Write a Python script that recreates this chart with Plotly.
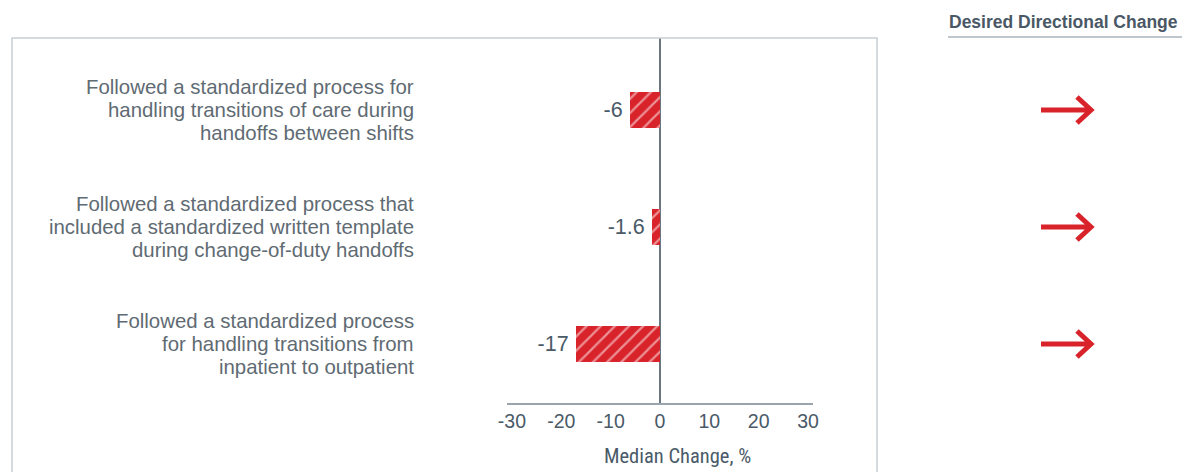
import plotly.graph_objects as go

# ---- data ----
categories = [
    "Followed a standardized process for<br>handling transitions of care during<br>handoffs between shifts",
    "Followed a standardized process that<br>included a standardized written template<br>during change-of-duty handoffs",
    "Followed a standardized process<br>for handling transitions from<br>inpatient to outpatient",
]
median_change = [-6, -1.6, -17]
desired_direction = ["increase", "increase", "increase"]
tick_values = [-30, -20, -10, 0, 10, 20, 30]
tick_labels = ["-30", "-20", "-10", "0", "10", "20", "30"]

W, H = 1185, 472
RED = "#d9232b"
TXT = "#4a5a68"
LBL = "#5f6b73"
FONT = "Liberation Sans"

def px(x):
    return x / W

def py(y):
    return 1 - y / H

# row positions: first category at top
ypos = [2, 1, 0]
ROW_UNIT = 117.0  # pixels per row unit

fig = go.Figure()
fig.add_trace(go.Bar(
    x=median_change,
    y=ypos,
    orientation="h",
    width=0.3,
    marker=dict(
        color=RED,
        line=dict(width=0),
        pattern=dict(shape="/", fgcolor="white", bgcolor=RED, size=10, solidity=0.22),
    ),
    text=[f"{v:g}\u2009" for v in median_change],
    textposition="outside",
    textfont=dict(size=21.5, color=TXT, family=FONT),
    cliponaxis=False,
    hoverinfo="skip",
))

# category labels, one annotation per line for tight line spacing
for cat, yv in zip(categories, ypos):
    lines = cat.split("<br>")
    n = len(lines)
    for i, ln in enumerate(lines):
        off = (i - (n - 1) / 2) * 23.0 / ROW_UNIT
        fig.add_annotation(
            x=px(416), xref="paper", y=yv - off, yref="y",
            text=ln, showarrow=False, xanchor="right", yanchor="middle", align="right",
            font=dict(size=20.4, color=LBL, family=FONT),
        )

# axis title
fig.add_annotation(
    x=px(677), y=py(456), xref="paper", yref="paper",
    text="Median Change, %", showarrow=False, xanchor="center", yanchor="middle",
    font=dict(size=20.5, color=TXT, family="Roboto Condensed, Liberation Sans Narrow, Liberation Sans"),
)

# header
fig.add_annotation(
    x=px(1180), y=py(22), xref="paper", yref="paper",
    text="<b>Desired Directional Change</b>", showarrow=False, xanchor="right", yanchor="middle",
    font=dict(size=17.5, color="#4a5866", family=FONT),
)

shapes = []
# header underline
shapes.append(dict(type="line", xref="paper", yref="paper",
                   x0=px(948), x1=px(1182), y0=py(37), y1=py(37),
                   line=dict(color="#aab4bd", width=1.5)))
# outer box
shapes.append(dict(type="path", xref="paper", yref="paper",
                   path=f"M {px(12)} {py(480)} L {px(12)} {py(38)} L {px(877)} {py(38)} L {px(877)} {py(480)}",
                   line=dict(color="#c8ced3", width=1.5)))

# arrows
row_py = {2: 110, 1: 227, 0: 344}
for d, yv in zip(desired_direction, ypos):
    yc = row_py[yv]
    if d == "increase":
        path = (f"M {px(1041)} {py(yc)} L {px(1091)} {py(yc)} "
                f"M {px(1077)} {py(yc-13)} L {px(1091)} {py(yc)} L {px(1077)} {py(yc+13)}")
    else:
        path = (f"M {px(1093)} {py(yc)} L {px(1043)} {py(yc)} "
                f"M {px(1057)} {py(yc-13)} L {px(1043)} {py(yc)} L {px(1057)} {py(yc+13)}")
    shapes.append(dict(type="path", xref="paper", yref="paper", path=path,
                       line=dict(color=RED, width=5)))

fig.update_layout(
    width=W, height=H,
    autosize=False,
    margin=dict(l=0, r=0, t=0, b=0, pad=0),
    paper_bgcolor="white", plot_bgcolor="white",
    showlegend=False,
    shapes=shapes,
    font=dict(family=FONT),
    xaxis=dict(
        domain=[px(507), px(813)],
        range=[-31, 31],
        tickvals=tick_values, ticktext=tick_labels,
        tickfont=dict(size=19.5, color=TXT),
        showgrid=False,
        zeroline=True, zerolinecolor="#6b7780", zerolinewidth=2,
        showline=True, linecolor="#9aa5ae", linewidth=2,
        ticks="", ticklen=0,
        automargin=False,
        fixedrange=True,
    ),
    yaxis=dict(
        domain=[py(403), py(38)],
        range=[-0.504, 2.615],
        showticklabels=False, showgrid=False, zeroline=False, showline=False,
        automargin=False,
        fixedrange=True,
    ),
    bargap=0,
)

fig.write_html("out.html")
